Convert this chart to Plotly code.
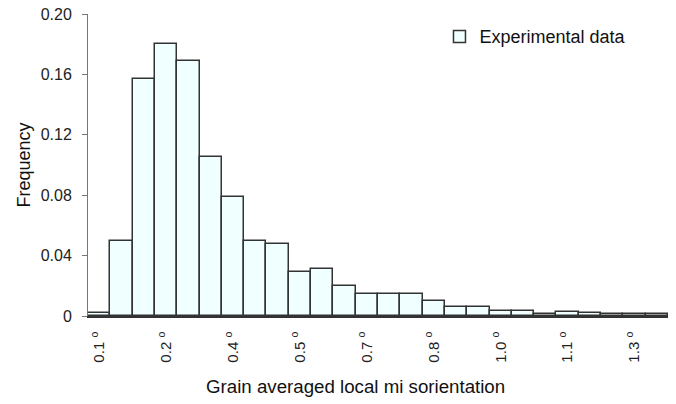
import plotly.graph_objects as go

# Bin centres (misorientation, degrees) and frequencies
bin_centers = [0.10, 0.15, 0.20, 0.25, 0.30, 0.35, 0.40, 0.45, 0.50, 0.55,
               0.60, 0.65, 0.70, 0.75, 0.80, 0.85, 0.90, 0.95, 1.00, 1.05,
               1.10, 1.15, 1.20, 1.25, 1.30, 1.35]
frequency = [0.0023, 0.0496, 0.157, 0.180, 0.169, 0.105, 0.0787, 0.050, 0.0476, 0.0293,
             0.0313, 0.0197, 0.0146, 0.0146, 0.0146, 0.0099, 0.0062, 0.0062, 0.0036, 0.0036,
             0.0013, 0.0028, 0.0019, 0.0013, 0.0013, 0.0013]

x_tick_vals = [0.10, 0.25, 0.40, 0.55, 0.70, 0.85, 1.00, 1.15, 1.30]
x_tick_text = ["0.1", "0.2", "0.4", "0.5", "0.7", "0.8", "1.0", "1.1", "1.3"]
y_tick_vals = [0, 0.04, 0.08, 0.12, 0.16, 0.20]
y_tick_text = ["0", "0.04", "0.08", "0.12", "0.16", "0.20"]

fig = go.Figure()
fig.add_trace(go.Bar(
    x=bin_centers, y=frequency, name="Experimental data",
    marker=dict(color="#F0FFFF", line=dict(color="#333333", width=1.5)),
    width=0.05,
))

fig.update_layout(
    width=660, height=396,
    margin=dict(l=80, r=0, t=6, b=88),
    paper_bgcolor="white", plot_bgcolor="white",
    font=dict(family="Liberation Sans, Arial, sans-serif", size=15, color="#222222"),
    bargap=0,
    showlegend=True,
    legend=dict(x=0.606, y=0.986, xanchor="left", yanchor="top",
                font=dict(size=18, color="#111111"), bgcolor="rgba(0,0,0,0)"),
    xaxis=dict(
        range=[0.075, 1.375], tickvals=x_tick_vals,
        ticktext=[t + " <sup>o</sup>" for t in x_tick_text],
        tickangle=-90, showgrid=False, zeroline=False, automargin=False,
        tickfont=dict(size=15), ticklabelstandoff=8,
        showline=True, linecolor="#333333", linewidth=1.5, ticks="",
    ),
    yaxis=dict(
        range=[0, 0.2], tickvals=y_tick_vals, ticktext=y_tick_text,
        showgrid=False, zeroline=False, automargin=False,
        tickfont=dict(size=16), ticklabelstandoff=7, ticklabeloverflow="allow",
        showline=True, linecolor="#777777", linewidth=1,
        ticks="outside", ticklen=5, tickcolor="#777777",
        title=dict(text="Frequency", font=dict(size=18, color="#111111"), standoff=5),
    ),
    annotations=[dict(
        text="Grain averaged local mi sorientation", xref="paper", yref="paper",
        x=0.4617, y=-0.2334, xanchor="center", yanchor="middle", showarrow=False,
        font=dict(size=18.7, color="#111111"),
    )],
)

fig.write_html("out.html")
